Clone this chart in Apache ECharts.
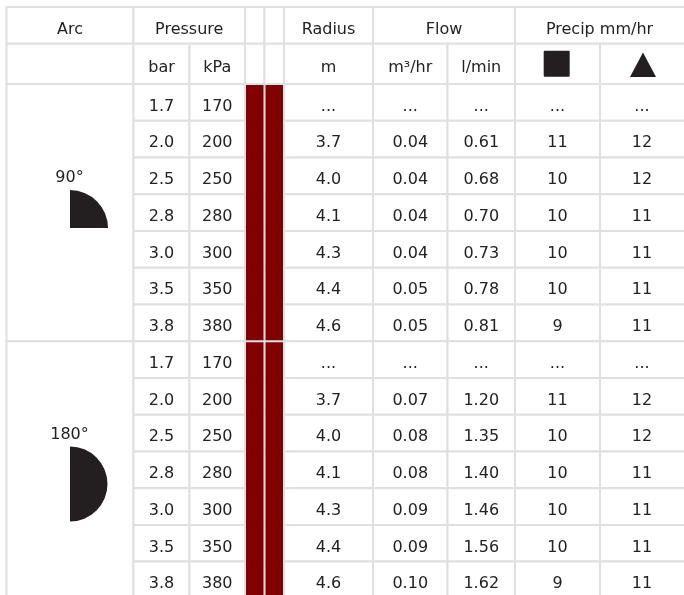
<!DOCTYPE html>
<html><head><meta charset="utf-8">
<style>html,body{margin:0;padding:0;background:#fff}#c{width:684px;height:595px}</style>
<script src="https://cdn.jsdelivr.net/npm/echarts@6/dist/echarts.min.js"></script>
</head><body><div id="c"></div>
<script>
// ---- values
var arcLabels = ['90°', '180°'];
var arcSweeps = [90, 180];
var bar = ['1.7','2.0','2.5','2.8','3.0','3.5','3.8'];
var kpa = ['170','200','250','280','300','350','380'];
var radius90 = ['...','3.7','4.0','4.1','4.3','4.4','4.6'];
var m3hr90 = ['...','0.04','0.04','0.04','0.04','0.05','0.05'];
var lmin90 = ['...','0.61','0.68','0.70','0.73','0.78','0.81'];
var square90 = ['...','11','10','10','10','10','9'];
var triangle90 = ['...','12','12','11','11','11','11'];
var radius180 = ['...','3.7','4.0','4.1','4.3','4.4','4.6'];
var m3hr180 = ['...','0.07','0.08','0.08','0.09','0.09','0.10'];
var lmin180 = ['...','1.20','1.35','1.40','1.46','1.56','1.62'];
var square180 = ['...','11','10','10','10','10','9'];
var triangle180 = ['...','12','12','11','11','11','11'];
var headTop = ['Arc','Pressure','','','Radius','Flow','Precip mm/hr'];
var headSub = ['bar','kPa','','','m','m³/hr','l/min'];

// ---- table layout (units of the hidden axes)
var colX = [6.5,133.5,189.5,245,264.5,284,373,447.5,515,600,690];
var viewRight = 684;
var topSpans = [[0,1],[1,3],[3,4],[4,5],[5,6],[6,8],[8,10]];
var subCols = [1,2,3,4,5,6,7];
var rowH = 36.74, bodyY = 84, groupRows = 7;
var headY = [7,43.7,84];
var FONT = 'DejaVu Sans', SIZE = 16, INK = '#222', LINE = '#e0e0e0', DARK = '#231f20';
function rowTop(i){ return bodyY + i * rowH; }
function mid(c0,c1){ return (colX[c0]+Math.min(colX[c1],viewRight))/2; }

var cells = [], texts = [], redBars = [];
topSpans.forEach(function(s,i){
  cells.push([colX[s[0]],headY[0],colX[s[1]],headY[1]]);
  if(headTop[i]) texts.push([mid(s[0],s[1]),(headY[0]+headY[1])/2+4.5,headTop[i]]);
});
cells.push([colX[0],headY[1],colX[1],headY[2]]);
subCols.forEach(function(c,i){
  cells.push([colX[c],headY[1],colX[c+1],headY[2]]);
  if(headSub[i]) texts.push([mid(c,c+1),(headY[1]+headY[2])/2+3.5,headSub[i]]);
});
cells.push([colX[8],headY[1],colX[9],headY[2]],[colX[9],headY[1],colX[10],headY[2]]);

var groups = [
  [bar,kpa,null,null,radius90,m3hr90,lmin90,square90,triangle90],
  [bar,kpa,null,null,radius180,m3hr180,lmin180,square180,triangle180]
];
groups.forEach(function(g,gi){
  var y0 = rowTop(gi*groupRows);
  cells.push([colX[0],y0,colX[1],rowTop((gi+1)*groupRows)]);
  texts.push([69.5,y0+rowH*(gi?2.54:2.55),arcLabels[gi]]);
  for(var r=0;r<groupRows;r++){
    var ry=rowTop(gi*groupRows+r);
    g.forEach(function(col,ci){
      cells.push([colX[ci+1],ry,colX[ci+2],ry+rowH]);
      if(col) texts.push([mid(ci+1,ci+2),ry+rowH/2+4.2,col[r]]);
    });
  }
  [3,4].forEach(function(c){ redBars.push([colX[c],y0,colX[c+1],rowTop((gi+1)*groupRows)]); });
});

var symbols = [
  {value:[70,228,38],shape:'arc',sweep:arcSweeps[0]},
  {value:[70,484,37.5],shape:'arc',sweep:arcSweeps[1]},
  {value:[556.7,63.7,13],shape:'square'},
  {value:[643,52.5,13],shape:'triangle'}
];

function hidden(extentMax,inv){return {type:'value',min:0,max:extentMax,inverse:!!inv,show:false};}
var chart = echarts.init(document.getElementById('c'),null,{renderer:'canvas'});
chart.setOption({
  animation:false,backgroundColor:'#fff',
  grid:{left:0,top:0,right:0,bottom:0,containLabel:false},
  xAxis:hidden(684),yAxis:hidden(595,true),
  series:[
    {type:'custom',clip:true,silent:true,data:cells,z:1,encode:{x:[0,2],y:[1,3]},
     renderItem:function(p,api){
       var a=api.coord([api.value(0),api.value(1)]),b=api.coord([api.value(2),api.value(3)]);
       return {type:'rect',shape:{x:a[0],y:a[1],width:b[0]-a[0],height:b[1]-a[1]},
               style:{fill:'#fff',stroke:LINE,lineWidth:2}};
     }},
    {type:'custom',clip:true,silent:true,data:redBars,z:2,encode:{x:[0,2],y:[1,3]},
     renderItem:function(p,api){
       var a=api.coord([api.value(0),api.value(1)]),b=api.coord([api.value(2),api.value(3)]);
       return {type:'rect',shape:{x:a[0]+1,y:a[1]+1,width:b[0]-a[0]-2,height:b[1]-a[1]-2},
               style:{fill:'#800000'}};
     }},
    {type:'custom',clip:false,silent:true,data:texts,z:3,encode:{x:0,y:1},
     renderItem:function(p,api){
       var a=api.coord([api.value(0),api.value(1)]);
       return {type:'text',x:a[0],y:a[1],
               style:{text:String(texts[p.dataIndex][2]),fill:INK,font:SIZE+'px "'+FONT+'"',align:'center',verticalAlign:'middle'}};
     }},
    {type:'custom',clip:false,silent:true,data:symbols,z:3,encode:{x:0,y:1},
     renderItem:function(p,api){
       var s=symbols[p.dataIndex],a=api.coord([s.value[0],s.value[1]]),r=s.value[2];
       if(s.shape==='arc'){
         var half=s.sweep>=180;
         return {type:'sector',shape:{cx:a[0],cy:a[1],r:r,r0:0,startAngle:-Math.PI/2,endAngle:half?Math.PI/2:0,clockwise:true},style:{fill:DARK}};
       }
       if(s.shape==='square')
         return {type:'rect',shape:{x:a[0]-r,y:a[1]-r,width:2*r,height:2*r,r:1},style:{fill:DARK}};
       return {type:'polygon',shape:{points:[[a[0],a[1]],[a[0]+r,a[1]+24.5],[a[0]-r,a[1]+24.5]]},style:{fill:DARK}};
     }}
  ]
});
</script></body></html>
